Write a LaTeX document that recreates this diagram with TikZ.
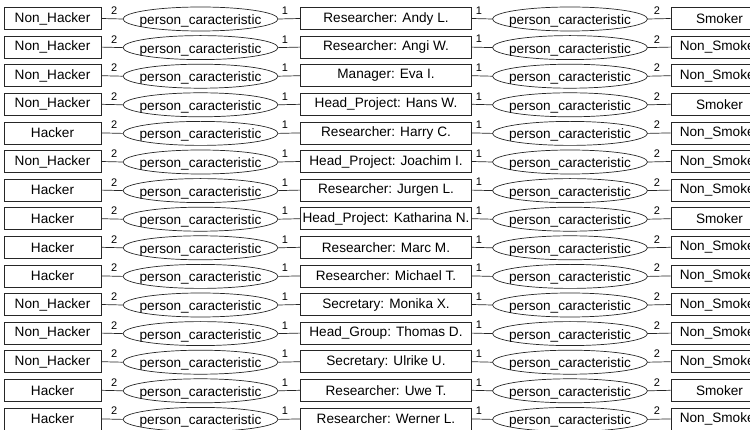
\documentclass[tikz,border=0pt]{standalone}
\usepackage{fontspec}
\setmainfont{Liberation Sans}
\usetikzlibrary{shapes.geometric}

\tikzset{
  attrbox/.style={draw=black!85, line width=0.7pt, minimum width=97pt, minimum height=22pt,
    inner sep=0pt, font=\fontsize{13.6}{16}\selectfont},
  personbox/.style={attrbox, minimum width=171pt},
  relation/.style={draw=black!85, line width=0.7pt, ellipse, minimum width=155pt,
    minimum height=24pt, inner sep=0pt},
  reltext/.style={font=\fontsize{13.6}{16}\selectfont, inner sep=0pt},
  link/.style={draw=black!85, line width=0.7pt},
  card/.style={font=\fontsize{11}{13}\selectfont, inner sep=0pt, above, yshift=4pt}
}

\begin{document}
\begin{tikzpicture}[x=1pt, y=-1pt]
\useasboundingbox (0,0) rectangle (750,430);
\foreach \lft/\mid/\rgt [count=\i] in {
  Non\_Hacker/Researcher: Andy L./Smoker,
  Non\_Hacker/Researcher: Angi W./Non\_Smoker,
  Non\_Hacker/Manager: Eva I./Non\_Smoker,
  Non\_Hacker/Head\_Project: Hans W./Smoker,
  Hacker/Researcher: Harry C./Non\_Smoker,
  Non\_Hacker/Head\_Project: Joachim I./Non\_Smoker,
  Hacker/Researcher: Jurgen L./Non\_Smoker,
  Hacker/Head\_Project: Katharina N./Smoker,
  Hacker/Researcher: Marc M./Non\_Smoker,
  Hacker/Researcher: Michael T./Non\_Smoker,
  Non\_Hacker/Secretary: Monika X./Non\_Smoker,
  Non\_Hacker/Head\_Group: Thomas D./Non\_Smoker,
  Non\_Hacker/Secretary: Ulrike U./Non\_Smoker,
  Hacker/Researcher: Uwe T./Smoker,
  Hacker/Researcher: Werner L./Non\_Smoker} {
  \pgfmathsetmacro{\yy}{18.5+28.6*(\i-1)}
  \node[attrbox] (l\i) at (52.5,\yy) {\lft};
  \node[relation] (e\i) at (200.5,\yy+0.5) {};
  \node[reltext] (et\i) at (200.5,\yy+2.5) {person\_caracteristic};
  \node[personbox] (c\i) at (386,\yy) {\mid};
  \node[relation] (g\i) at (570,\yy+0.5) {};
  \node[reltext] (gt\i) at (570,\yy+2.5) {person\_caracteristic};
  \node[attrbox] (r\i) at (719.5,\yy) {\rgt};
  \draw[link] (l\i.east) -- node[card, pos=0.6] (a\i) {2} (e\i.west);
  \draw[link] (e\i.east) -- node[card, pos=0.3] (b\i) {1} (c\i.west);
  \draw[link] (c\i.east) -- node[card, pos=0.35] (d\i) {1} (g\i.west);
  \draw[link] (g\i.east) -- node[card, pos=0.4] (h\i) {2} (r\i.west);
}
\end{tikzpicture}
\end{document}
